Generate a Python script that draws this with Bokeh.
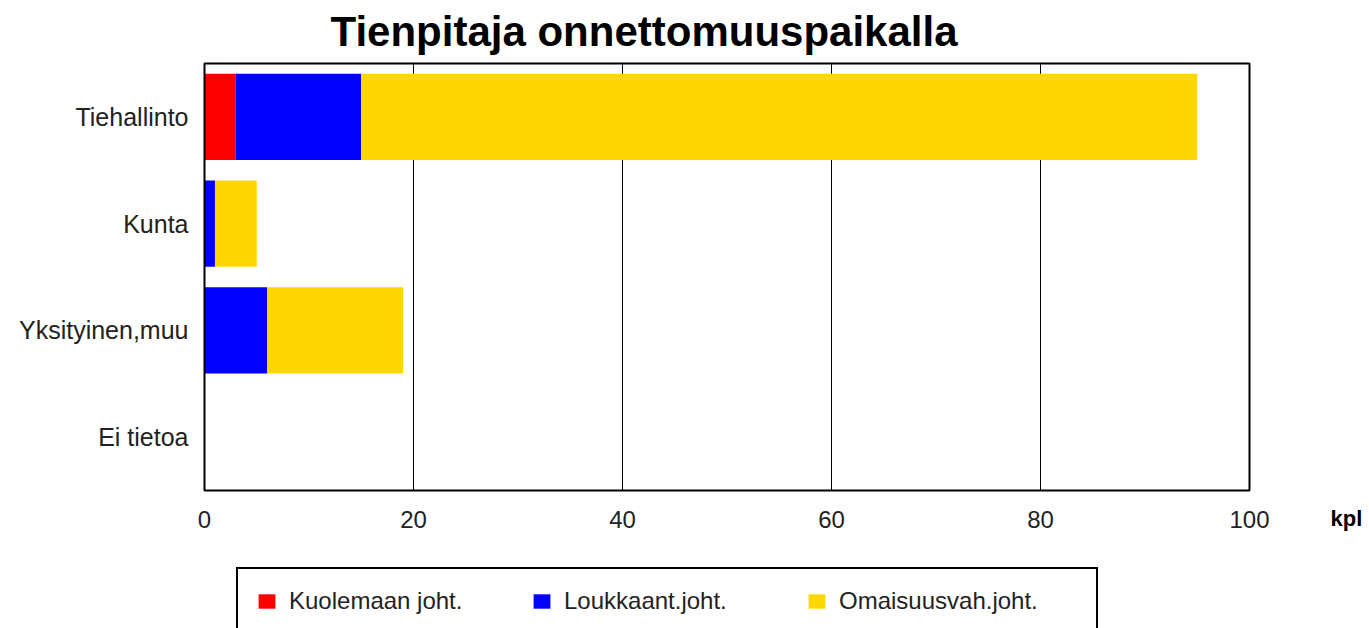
from bokeh.plotting import figure
from bokeh.models import (Legend, LegendItem, Label, FixedTicker, Range1d,
                          ColumnDataSource, BoxAnnotation)
from bokeh.embed import file_html
from bokeh.resources import INLINE

# ---- data ----
categories = ["Tiehallinto", "Kunta", "Yksityinen,muu", "Ei tietoa"]
series_names = ["Kuolemaan joht.", "Loukkaant.joht.", "Omaisuusvah.joht."]
kuolemaan = [3, 0, 0, 0]
loukkaant = [12, 1, 6, 0]
omaisuus = [80, 4, 13, 0]
colors = ["#FF0000", "#0000FF", "#FFD700"]
x_ticks = [0, 20, 40, 60, 80, 100]
title_text = "Tienpitaja onnettomuuspaikalla"
unit_text = "kpl"

FONT = "Liberation Sans"

# ---- layout constants (pixels) ----
W, H = 1369, 628
BOX_L, BOX_R, BOX_T, BOX_B = 204, 1249, 63, 490   # visible chart box
# the drawing frame covers the whole canvas so that labels, title and legend are not clipped

n_cat = len(categories)
x_min, x_max = x_ticks[0], x_ticks[-1]
px_x = (BOX_R - BOX_L) / (x_max - x_min)
px_y = (BOX_B - BOX_T) / n_cat
x_start = x_min - BOX_L / px_x
x_end = x_start + W / px_x
y_end = n_cat + BOX_T / px_y
y_start = y_end - H / px_y

y_pos = [n_cat - i - 0.5 for i in range(n_cat)]

src = ColumnDataSource(dict(y=y_pos, kuol=kuolemaan, louk=loukkaant, omai=omaisuus))

p = figure(width=W, height=H, output_backend="svg", toolbar_location=None,
           x_range=Range1d(x_start, x_end), y_range=Range1d(y_start, y_end),
           min_border_left=0, min_border_right=0, min_border_top=0,
           min_border_bottom=0)

# vertical grid lines inside the chart box only
grid_x = x_ticks[1:-1]
p.segment(x0=grid_x, y0=[0] * len(grid_x), x1=grid_x, y1=[n_cat] * len(grid_x),
          line_color="black", line_width=1)

renderers = p.hbar_stack(["kuol", "louk", "omai"], y="y", height=0.81, color=colors,
                         line_color=None, source=src)

# chart box border
p.add_layout(BoxAnnotation(left=x_min, right=x_max, bottom=0, top=n_cat,
                           fill_alpha=0, fill_color=None, line_color="black",
                           line_alpha=1, line_width=2))

# title
p.add_layout(Label(x=330, y=H - 31, x_units="screen", y_units="screen", text=title_text,
                   text_font=FONT, text_font_size="42px", text_font_style="bold",
                   text_baseline="alphabetic", text_align="left", text_color="black"))

p.xgrid.grid_line_color = None
p.ygrid.grid_line_color = None
p.outline_line_color = None

xa = p.xaxis[0]
xa.fixed_location = 0
xa.ticker = FixedTicker(ticks=x_ticks)
ya = p.yaxis[0]
ya.fixed_location = x_min
ya.ticker = FixedTicker(ticks=y_pos)
ya.major_label_overrides = {y: c for y, c in zip(y_pos, categories)}
for ax in (xa, ya):
    ax.axis_line_color = None
    ax.major_tick_line_color = None
    ax.minor_tick_line_color = None
    ax.major_tick_in = 0
    ax.major_tick_out = 0
    ax.major_label_text_font = FONT
    ax.major_label_text_font_size = "24px"
    ax.major_label_text_color = "#222222"
ya.major_label_text_font_size = "25px"
xa.major_label_standoff = 20
ya.major_label_standoff = 16

p.background_fill_color = "white"
p.border_fill_color = "white"

p.add_layout(Label(x=x_max, y=0, x_offset=81, y_offset=-28, text=unit_text,
                   text_font=FONT, text_font_size="22px", text_font_style="bold",
                   text_baseline="middle", text_align="left", text_color="black"))

legend = Legend(items=[LegendItem(label=n, renderers=[r]) for n, r in zip(series_names, renderers)],
                orientation="horizontal", location=(236, -7), margin=0,
                glyph_width=21, glyph_height=18, label_standoff=12, label_width=239,
                spacing=3, padding=18, label_text_font=FONT, label_text_font_size="24px",
                label_text_color="#222222", border_line_color="black", border_line_width=2,
                border_line_alpha=1, background_fill_color="white", background_fill_alpha=1)
p.add_layout(legend, "center")

open("out.html", "w").write(file_html(p, INLINE))
